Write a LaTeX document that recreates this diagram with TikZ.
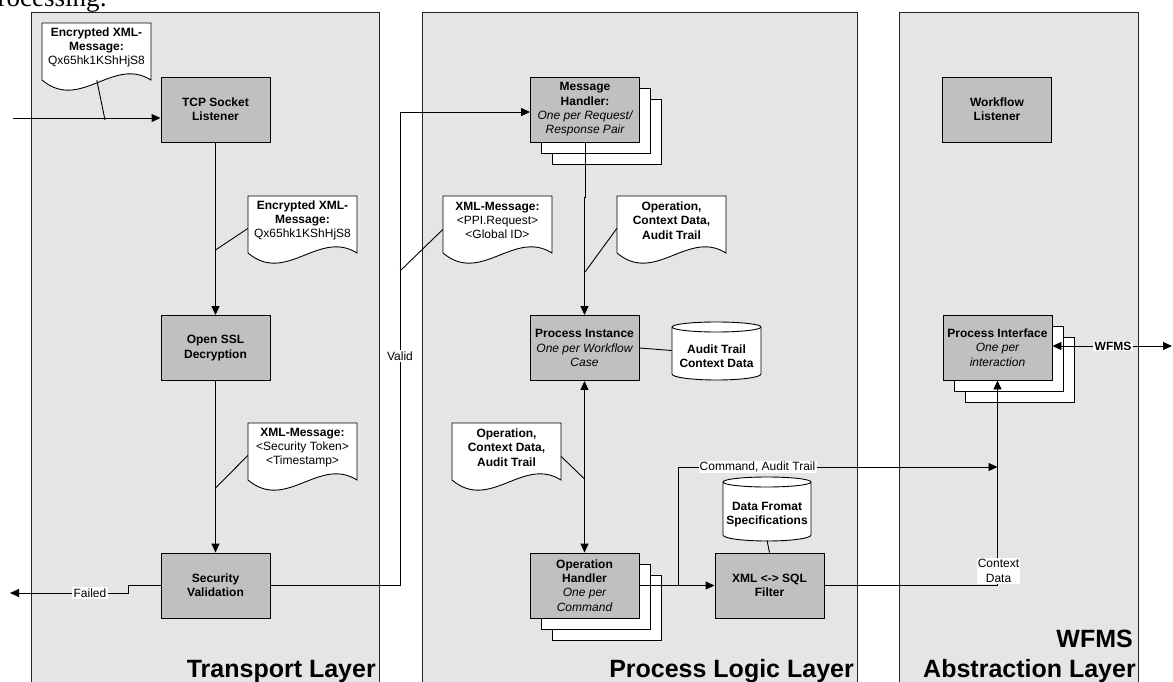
\documentclass[tikz,border=0pt]{standalone}
\usepackage{fontspec}
\setmainfont{Liberation Sans}
\newfontfamily\seriffam{Liberation Serif}
\usetikzlibrary{arrows.meta,calc}
\definecolor{panelfill}{RGB}{229,229,229}
\definecolor{boxfill}{RGB}{192,192,192}
\newcommand\smallfont{\fontsize{12}{14.3}\selectfont}
\newcommand\bigfont{\fontsize{25}{30}\selectfont\bfseries}
\newcommand\itx{\mdseries\itshape}
\tikzset{
  panel/.style={draw=black!85, fill=panelfill, line width=0.9pt},
  conn/.style={line width=0.9pt},
  arr/.style={conn, -{Triangle[length=9pt,width=8pt]}},
  darr/.style={conn, {Triangle[length=9pt,width=8pt]}-{Triangle[length=9pt,width=8pt]}},
  procbox/.style={draw, conn, fill=boxfill, minimum width=109pt, minimum height=65pt,
    inner sep=0pt, align=center, font=\smallfont\bfseries},
  stackbox/.style={draw, conn, fill=white, minimum width=109pt, minimum height=65pt, inner sep=0pt},
  doctext/.style={minimum width=109pt, minimum height=49pt, inner sep=0pt, align=center, font=\smallfont},
  cyltext/.style={inner sep=0pt, align=center, font=\smallfont\bfseries},
  lbl/.style={fill=white, inner sep=1.2pt, align=center, font=\smallfont},
  layerlbl/.style={anchor=base east, inner sep=0pt, font=\bigfont}
}
\newcommand\docshape[4]{%
  \begin{scope}[shift={(#2,#3)}]
    \filldraw[conn, fill=white] (0,0) -- (109,0) -- (109,57)
      .. controls (71,33) and (38,89) .. (0,57) -- cycle;
    \node[doctext] (#1) at (54.5,24.5) {#4};
  \end{scope}}
\newcommand\cylshape[6]{%
  \begin{scope}[shift={(#2,#3)}]
    \pgfmathsetmacro\cw{#4}\pgfmathsetmacro\ch{#5}\pgfmathsetmacro\crx{#4/2}
    \filldraw[conn, fill=white] (0,5) -- (0,\ch-5)
      arc[start angle=180,end angle=0,x radius=\crx,y radius=6] -- (\cw,5)
      arc[start angle=0,end angle=-180,x radius=\crx,y radius=5] -- cycle;
    \draw[conn] (0,5) arc[start angle=180,end angle=0,x radius=\crx,y radius=5];
    \node[minimum width=#4pt, minimum height=#5pt, inner sep=0pt] (#1) at (\crx,\ch/2) {};
    \node[cyltext] (#1-t) at (\crx,\ch/2+6) {#6};
  \end{scope}}
\begin{document}
\begin{tikzpicture}[x=1pt,y=-1pt]
\useasboundingbox (0,0) rectangle (1173,682);
% title fragment
\node[anchor=base west, inner sep=0pt, font=\seriffam\fontsize{27}{30}\selectfont] (title) at (-16,7) {processing:};
% panels
\path[panel] (31,12) rectangle (379,700);
\path[panel] (422,12) rectangle (857,700);
\path[panel] (899,12) rectangle (1138,700);
\node[layerlbl] (lt) at (376,677) {Transport Layer};
\node[layerlbl] (lp) at (854,677) {Process Logic Layer};
\node[layerlbl] (lw1) at (1133,647) {WFMS};
\node[layerlbl] (lw2) at (1136,677) {Abstraction Layer};

% transport layer boxes
\node[procbox] (tcp) at (215.5,109.5) {TCP Socket\\Listener};
\node[procbox] (ssl) at (215.5,348) {Open SSL\\Decryption};
\node[procbox] (secval) at (215.5,585.5) {Security\\Validation};

% process logic boxes
\node[stackbox] (mh3) at (607,131.5) {};
\node[stackbox] (mh2) at (596,120.5) {};
\node[procbox] (msgh) at (585,109.5) {Message\\Handler:\\{\itx One per Request/}\\{\itx Response Pair}};
\node[procbox] (procinst) at (584.5,348) {Process Instance\\{\itx One per Workflow}\\{\itx Case}};
\node[stackbox] (oh3) at (606.5,607.5) {};
\node[stackbox] (oh2) at (595.5,596.5) {};
\node[procbox] (ophand) at (584.5,585.5) {Operation\\Handler\\{\itx One per}\\{\itx Command}};
\node[procbox] (filter) at (769.5,585.5) {XML <-> SQL\\Filter};
\cylshape{audit}{672}{322}{89}{57}{Audit Trail\\Context Data}
\cylshape{dfs}{723}{477}{88}{63}{Data Fromat\\Specifications}

% WFMS layer boxes
\node[procbox] (wfl) at (997,109.5) {Workflow\\Listener};
\node[stackbox] (pi3) at (1019.5,369.5) {};
\node[stackbox] (pi2) at (1008.5,358.5) {};
\node[procbox] (procint) at (997.5,347.5) {Process Interface\\{\itx One per}\\{\itx interaction}};

% documents
\docshape{enc1}{42}{23}{\textbf{Encrypted XML-}\\\textbf{Message:}\\Qx65hk1KShHjS8}
\docshape{enc2}{248}{196}{\textbf{Encrypted XML-}\\\textbf{Message:}\\Qx65hk1KShHjS8}
\docshape{xmlsec}{248}{423}{\textbf{XML-Message:}\\<Security Token>\\<Timestamp>}
\docshape{xmlppi}{443}{196}{\textbf{XML-Message:}\\<PPI.Request>\\<Global ID>}
\docshape{opctx1}{617}{196}{\textbf{Operation,}\\\textbf{Context Data,}\\\textbf{Audit Trail}}
\docshape{opctx2}{452}{423}{\textbf{Operation,}\\\textbf{Context Data,}\\\textbf{Audit Trail}}

% connectors
\coordinate (inL) at (13,118);
\draw[arr] (inL) -- (inL -| tcp.west);
\draw[arr] (tcp) -- (ssl);
\draw[arr] (ssl) -- (secval);
\coordinate (fstep) at (128,593);
\coordinate (fout) at (10,593);
\draw[arr] (secval.west) -| (fstep) -- (fout);
\node[lbl] (failed) at (90,593) {Failed};
\coordinate (vturn) at (400,112);
\draw[arr] (secval.east) -| (vturn) -- (vturn -| msgh.west);
\node[lbl] (valid) at (400,356) {Valid};
\draw[arr] (msgh.south) -- ++(0,55) -| (procinst.north);
\draw[darr] (procinst.south) -- (ophand.north);
\draw[conn] (procinst.east) -- (audit.west);
\draw[arr] (ophand.east) -- (filter.west);
\draw[conn] (dfs.south) -- (filter.north);
\coordinate (br) at (678,585.5);
\coordinate (cmdy) at (0,467);
\draw[arr] (br) |- (procint.south |- cmdy);
\node[lbl] (cmdlbl) at (757.5,467) {Command, Audit Trail};
\draw[arr] (filter.east) -| (procint.south);
\node[lbl] (ctxlbl) at (998.5,571) {Context\\Data};
\coordinate (wout) at (1172,346);
\draw[darr] (procint.east |- wout) -- (wout);
\node[lbl, font=\smallfont\bfseries] (wfmslbl) at (1113,346) {WFMS};

% callouts
\coordinate (k1) at (105,120);
\draw[conn] ($(enc1.south west)+(55,8)$) -- (k1);
\coordinate (k2) at (215.5,250);
\draw[conn] ($(enc2.west)+(0,8)$) -- (k2);
\coordinate (k3) at (215.5,488);
\draw[conn] ($(xmlsec.west)+(0,8)$) -- (k3);
\coordinate (k4) at (400,271);
\draw[conn] ($(xmlppi.west)+(0,9)$) -- (k4);
\coordinate (k5) at (585,272);
\draw[conn] ($(opctx1.west)+(0,8)$) -- (k5);
\coordinate (k6) at (584.5,479);
\draw[conn] ($(opctx2.east)+(0,9)$) -- (k6);
\end{tikzpicture}
\end{document}
